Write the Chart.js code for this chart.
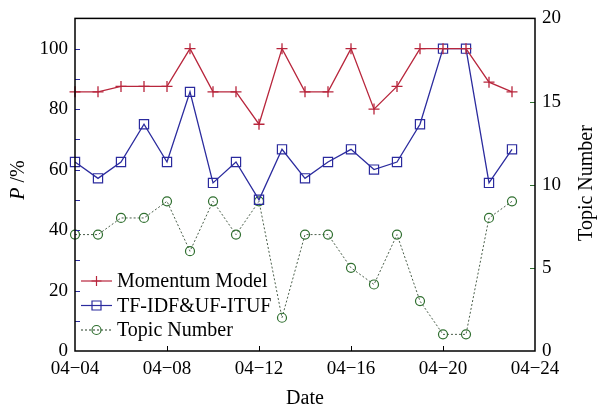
<!DOCTYPE html>
<html>
<head>
<meta charset="utf-8">
<script src="https://cdn.jsdelivr.net/npm/chart.js@4.4.1/dist/chart.umd.min.js"></script>
<style>
  body { margin: 0; background: #fff; }
  #wrap { width: 597px; height: 408px; position: relative; }
</style>
</head>
<body>
<div id="wrap"><canvas id="myChart"></canvas></div>
<script>
// data
const dates = ['04-04', '04-05', '04-06', '04-07', '04-08', '04-09', '04-10', '04-11', '04-12', '04-13',
  '04-14', '04-15', '04-16', '04-17', '04-18', '04-19', '04-20', '04-21', '04-22', '04-23'];
const momentum = [85.7, 85.7, 87.5, 87.5, 87.5, 100, 85.7, 85.7, 75, 100,
  85.7, 85.7, 100, 80, 87.5, 100, 100, 100, 88.9, 85.7];
const tfidf = [62.5, 57.1, 62.5, 75, 62.5, 85.7, 55.6, 62.5, 50, 66.7,
  57.1, 62.5, 66.7, 60, 62.5, 75, 100, 100, 55.6, 66.7];
const topics = [7, 7, 8, 8, 9, 6, 9, 7, 9, 2, 7, 7, 5, 4, 7, 3, 1, 1, 8, 9];
const xTicks = ['04-04', '04-08', '04-12', '04-16', '04-20', '04-24'];

const RED = '#b8263c';
const BLUE = '#2b2b9e';
const GREEN = '#2f6f2f';
const FONT = "'Liberation Serif', 'Times New Roman', serif";

const dayOf = (d) => parseInt(d.split('-')[1], 10);
const pts = (vals) => vals.map((v, i) => ({ x: dayOf(dates[i]), y: v }));
const fmt = (d) => d.replace('-', '\u2212');

// ticks inward, box, axis titles and legend
const decor = {
  id: 'decor',
  afterDraw(chart) {
    const { ctx, chartArea: a, scales } = chart;
    ctx.save();
    ctx.lineWidth = 1;
    // left axis ticks (blue), major + minor
    ctx.strokeStyle = BLUE;
    for (let v = 10; v <= 100; v += 10) {
      const y = Math.round(scales.y.getPixelForValue(v)) + 0.5;
      ctx.beginPath(); ctx.moveTo(a.left, y); ctx.lineTo(a.left + 5, y); ctx.stroke();
    }
    // right axis ticks (green)
    ctx.strokeStyle = GREEN;
    [5, 10, 15].forEach((v) => {
      const y = Math.round(scales.y2.getPixelForValue(v)) + 0.5;
      ctx.beginPath(); ctx.moveTo(a.right, y); ctx.lineTo(a.right - 5, y); ctx.stroke();
    });
    // x ticks
    ctx.strokeStyle = '#000';
    [8, 12, 16, 20].forEach((v) => {
      const x = Math.round(scales.x.getPixelForValue(v)) + 0.5;
      ctx.beginPath(); ctx.moveTo(x, a.bottom); ctx.lineTo(x, a.bottom - 5); ctx.stroke();
    });
    // box
    ctx.lineWidth = 1.5;
    ctx.strokeStyle = '#000';
    ctx.strokeRect(a.left, a.top, a.right - a.left, a.bottom - a.top);

    // axis titles
    ctx.fillStyle = '#000';
    ctx.textBaseline = 'middle';
    ctx.font = '20px ' + FONT;
    ctx.textAlign = 'center';
    ctx.fillText('Date', 305, 399);

    ctx.save();
    ctx.translate(19, 180);
    ctx.rotate(-Math.PI / 2);
    ctx.font = 'italic 20px ' + FONT;
    const wP = ctx.measureText('P ').width;
    ctx.font = '20px ' + FONT;
    const wR = ctx.measureText('/%').width;
    const x0 = -(wP + wR) / 2;
    ctx.textAlign = 'left';
    ctx.font = 'italic 20px ' + FONT;
    ctx.fillText('P ', x0, 0);
    ctx.font = '20px ' + FONT;
    ctx.fillText('/%', x0 + wP, 0);
    ctx.restore();

    ctx.save();
    ctx.translate(587, 183);
    ctx.rotate(-Math.PI / 2);
    ctx.textAlign = 'center';
    ctx.fillText('Topic Number', 0, 0);
    ctx.restore();

    // legend
    const items = [
      { label: 'Momentum Model', color: RED, style: 'cross', dash: [] },
      { label: 'TF-IDF&UF-ITUF', color: BLUE, style: 'rect', dash: [] },
      { label: 'Topic Number', color: GREEN, style: 'circle', dash: [2, 2] },
    ];
    items.forEach((it, i) => {
      const y = 281 + i * 24.5;
      ctx.strokeStyle = it.style === 'circle' ? '#4a5e4a' : it.color;
      ctx.lineWidth = 1.2;
      ctx.setLineDash(it.dash);
      ctx.beginPath(); ctx.moveTo(81, y); ctx.lineTo(112, y); ctx.stroke();
      ctx.setLineDash([]);
      ctx.strokeStyle = it.color;
      ctx.beginPath();
      if (it.style === 'cross') {
        ctx.moveTo(96.5, y - 5); ctx.lineTo(96.5, y + 5);
        ctx.moveTo(91.5, y); ctx.lineTo(101.5, y);
      } else if (it.style === 'rect') {
        ctx.rect(92, y - 4.5, 9, 9);
      } else {
        ctx.arc(96.5, y, 4.5, 0, Math.PI * 2);
      }
      ctx.stroke();
      ctx.fillStyle = '#000';
      ctx.textAlign = 'left';
      ctx.font = '20px ' + FONT;
      ctx.fillText(it.label, 117, y + 1);
    });
    ctx.restore();
  },
};

const tickFont = { family: FONT, size: 19 };

new Chart(document.getElementById('myChart'), {
  type: 'line',
  data: {
    datasets: [
      {
        label: 'Momentum Model', data: pts(momentum), yAxisID: 'y',
        borderColor: RED, borderWidth: 1.3, pointStyle: 'cross', pointRadius: 5.5,
        pointBorderWidth: 1.3, pointBackgroundColor: 'rgba(0,0,0,0)', clip: false,
      },
      {
        label: 'TF-IDF&UF-ITUF', data: pts(tfidf), yAxisID: 'y',
        borderColor: BLUE, borderWidth: 1.3, pointStyle: 'rect', pointRadius: 6.5,
        pointBorderWidth: 1.2, pointBackgroundColor: 'rgba(0,0,0,0)', clip: false,
      },
      {
        label: 'Topic Number', data: pts(topics), yAxisID: 'y2',
        borderColor: '#4a5e4a', borderWidth: 1, borderDash: [2, 2],
        pointStyle: 'circle', pointRadius: 4.5, pointBorderColor: GREEN,
        pointBorderWidth: 1.2, pointBackgroundColor: 'rgba(0,0,0,0)', clip: false,
      },
    ],
  },
  options: {
    responsive: true,
    maintainAspectRatio: false,
    animation: false,
    layout: { padding: { top: 17, left: 0, right: 0, bottom: 0 } },
    plugins: { legend: { display: false }, tooltip: { enabled: false } },
    elements: { line: { tension: 0 } },
    scales: {
      x: {
        type: 'linear', min: 4, max: 24,
        grid: { display: false, drawTicks: false }, border: { display: false },
        afterBuildTicks: (s) => { s.ticks = xTicks.map((d) => ({ value: dayOf(d) })); },
        ticks: {
          color: '#000', font: tickFont, padding: 7, maxRotation: 0, autoSkip: false,
          callback: (v) => fmt(xTicks.find((d) => dayOf(d) === v) || ''),
        },
        afterFit: (s) => { s.height = 57; },
      },
      y: {
        position: 'left', min: 0, max: 110,
        grid: { display: false, drawTicks: false }, border: { display: false },
        afterBuildTicks: (s) => { s.ticks = s.ticks.filter((t) => t.value % 20 === 0); },
        ticks: { stepSize: 20, color: '#000', font: tickFont, padding: 7 },
        afterFit: (s) => { s.width = 75; },
      },
      y2: {
        position: 'right', min: 0, max: 20,
        grid: { display: false, drawTicks: false }, border: { display: false },
        ticks: { stepSize: 5, color: '#000', font: tickFont, padding: 7 },
        afterFit: (s) => { s.width = 62; },
      },
    },
  },
  plugins: [decor],
});
</script>
</body>
</html>
